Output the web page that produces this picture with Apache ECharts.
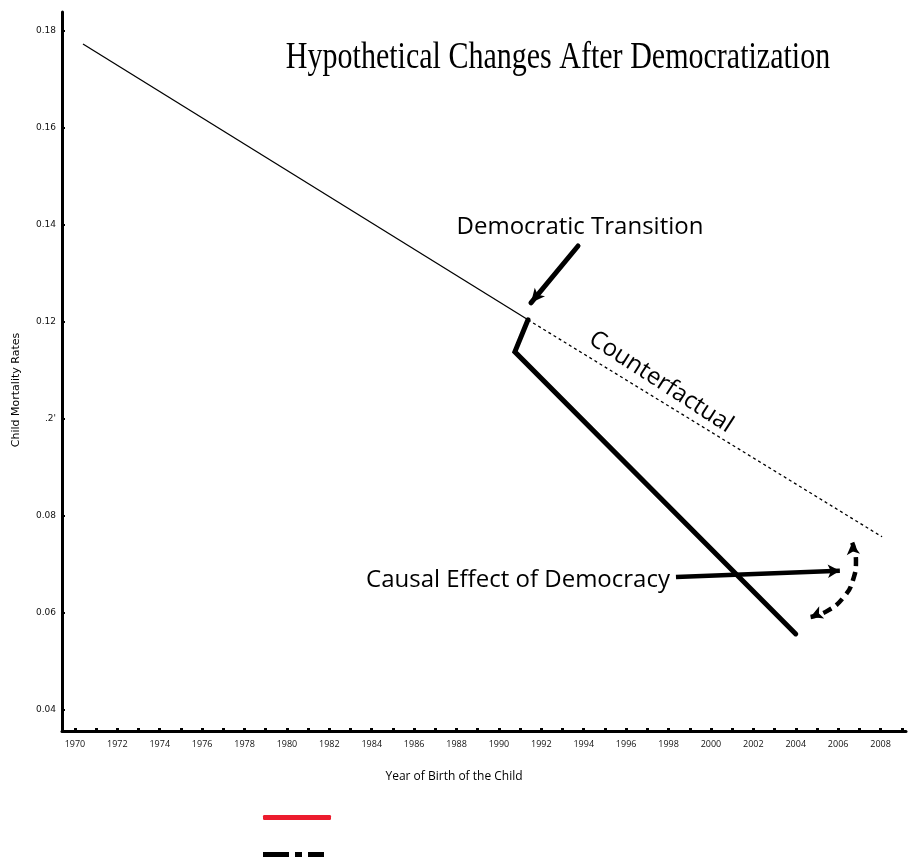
<!DOCTYPE html>
<html>
<head>
<meta charset="utf-8">
<script src="https://cdn.jsdelivr.net/npm/echarts@6/dist/echarts.min.js"></script>
<style>html,body{margin:0;padding:0;background:#fff}#c{width:909px;height:860px}</style>
</head>
<body>
<div id="c"></div>
<script>
// ---- data ----
const trendYears = [1970.38, 1991.37];
const trendRates = [0.1772, 0.1204];
const counterYears = [1991.37, 2008.07];
const counterRates = [0.1204, 0.0757];
const actualYears = [1991.37, 1990.75, 2004.0];
const actualRates = [0.1204, 0.1138, 0.0557];
const transitionArrow = [[1993.73, 0.1356], [1991.51, 0.1239]];
const causalArrow = [[1998.35, 0.0674], [2006.08, 0.0687]];
const arcYears = [2006.66, 2006.84, 2006.70, 2006.23, 2005.47, 2004.70];
const arcRates = [0.0745, 0.0709, 0.0668, 0.0631, 0.0604, 0.0592];
const xLabelYears = [1970,1972,1974,1976,1978,1980,1982,1984,1986,1988,1990,1992,1994,1996,1998,2000,2002,2004,2006,2008];
const xTickYears = [1970,1971,1972,1973,1974,1975,1976,1977,1978,1979,1980,1981,1982,1983,1984,1985,1986,1987,1988,1989,1990,1991,1992,1993,1994,1995,1996,1997,1998,1999,2000,2001,2002,2003,2004,2005,2006,2007,2008,2009];
const yTickValues = [0.04, 0.06, 0.08, 0.10, 0.12, 0.14, 0.16, 0.18];
const yTickLabels = ['0.04', '0.06', '0.08', ".2'", '0.12', '0.14', '0.16', '0.18'];
const titleText = 'Hypothetical Changes After Democratization';
const xName = 'Year of Birth of the Child';
const yName = 'Child Mortality Rates';

const pairs = (xs, ys) => xs.map((x, i) => [x, ys[i]]);
const chart = echarts.init(document.getElementById('c'), null, {renderer: 'canvas'});

const sans = '"Open Sans", sans-serif';
const annoText = (text, x, y, size, rot) => ({
  type: 'text', x: x, y: y, rotation: rot || 0, silent: true,
  style: {text: text, fontSize: size, fontFamily: sans, fill: '#000', align: 'center', verticalAlign: 'middle'}
});

// arc with arrow heads at both ends
const arcData = pairs(arcYears, arcRates).map((p, i, a) => {
  if (i === 0) return {value: p, symbol: 'arrow', symbolRotate: 6, symbolSize: [10, 12]};
  if (i === a.length - 1) return {value: p, symbol: 'arrow', symbolRotate: 112, symbolSize: [10, 12]};
  return {value: p, symbol: 'none'};
});

chart.setOption({
  animation: false,
  backgroundColor: '#fff',
  grid: {left: 62, right: 3, top: 12, bottom: 129, containLabel: false},
  xAxis: {
    type: 'value', min: 1969.39, max: 2009.2,
    axisLine: {lineStyle: {color: '#000', width: 3}},
    axisTick: {show: true, inside: true, length: 3, customValues: xTickYears, lineStyle: {color: '#000', width: 3}},
    axisLabel: {customValues: xLabelYears, fontSize: 9, fontFamily: sans, color: '#111', margin: 9,
      formatter: v => String(Math.round(v))},
    splitLine: {show: false}
  },
  yAxis: {
    type: 'value', min: 0.0357, max: 0.1838,
    axisLine: {show: true, lineStyle: {color: '#000', width: 3}},
    axisTick: {show: true, inside: true, length: 3, customValues: yTickValues, lineStyle: {color: '#000', width: 2}},
    axisLabel: {
      customValues: yTickValues, fontSize: 9, fontFamily: '"DejaVu Sans", sans-serif', color: '#111', margin: 6,
      formatter: v => yTickLabels[Math.round((v - yTickValues[0]) / 0.02)]
    },
    splitLine: {show: false}
  },
  legend: [
    {data: ['Observed'], left: 263, top: 815, padding: 0, icon: 'roundRect', itemWidth: 68, itemHeight: 5,
     formatter: () => '', selectedMode: false},
    {data: ['Alternative'], left: 263, top: 852, padding: 0,
     icon: 'path://M0,0h26v5h-26z M32,0h7v5h-7z M45,0h16v5h-16z', itemWidth: 61, itemHeight: 5,
     formatter: () => '', selectedMode: false}
  ],
  series: [
    {name: 'Trend', type: 'line', data: pairs(trendYears, trendRates), showSymbol: false, silent: true,
     lineStyle: {color: '#000', width: 1.3}},
    {name: 'Counterfactual', type: 'line', data: pairs(counterYears, counterRates), showSymbol: false, silent: true,
     lineStyle: {color: '#000', width: 1.3, type: [3, 3]}},
    {name: 'Actual', type: 'line', data: pairs(actualYears, actualRates), showSymbol: false, silent: true,
     lineStyle: {color: '#000', width: 5, cap: 'round', join: 'miter'}},
    {name: 'TransitionArrow', type: 'line', data: [], silent: true,
     markLine: {silent: true, animation: false, symbol: ['none', 'arrow'], symbolSize: [10, 14],
       label: {show: false}, lineStyle: {color: '#000', width: 5, type: 'solid', cap: 'round'},
       data: [[{coord: transitionArrow[0]}, {coord: transitionArrow[1]}]]}},
    {name: 'CausalArrow', type: 'line', data: [], silent: true,
     markLine: {silent: true, animation: false, symbol: ['none', 'arrow'], symbolSize: [10, 12],
       label: {show: false}, lineStyle: {color: '#000', width: 4.5, type: 'solid'},
       data: [[{coord: causalArrow[0]}, {coord: causalArrow[1]}]]}},
    {name: 'EffectArc', type: 'line', data: arcData, silent: true, smooth: 0.5,
     showSymbol: true, showAllSymbol: true, symbolKeepAspect: true,
     itemStyle: {color: '#000'},
     lineStyle: {color: '#000', width: 4.5, type: [9, 6]}},
    {name: 'Observed', type: 'line', data: [], color: '#ec1c2e', lineStyle: {color: '#ec1c2e'}, itemStyle: {color: '#ec1c2e'}},
    {name: 'Alternative', type: 'line', data: [], color: '#000', lineStyle: {color: '#000'}, itemStyle: {color: '#000'}}
  ],
  graphic: [
    {type: 'text', x: 558, y: 58, scaleX: 0.79, silent: true,
     style: {text: titleText, fontSize: 38, fontFamily: '"Liberation Serif", serif', fill: '#000', align: 'center', verticalAlign: 'middle'}},
    annoText('Democratic Transition', 580, 227, 24),
    annoText('Counterfactual', 661, 382, 24, -0.575),
    annoText('Causal Effect of Democracy', 518, 580, 24),
    {type: 'text', x: 16, y: 390, rotation: Math.PI / 2, silent: true,
     style: {text: yName, fontSize: 11, fontFamily: '"DejaVu Sans", sans-serif', fill: '#000', align: 'center', verticalAlign: 'middle'}},
    {type: 'text', x: 454, y: 777, silent: true,
     style: {text: xName, fontSize: 12, fontFamily: sans, fill: '#000', align: 'center', verticalAlign: 'middle'}}
  ]
});
</script>
</body>
</html>
